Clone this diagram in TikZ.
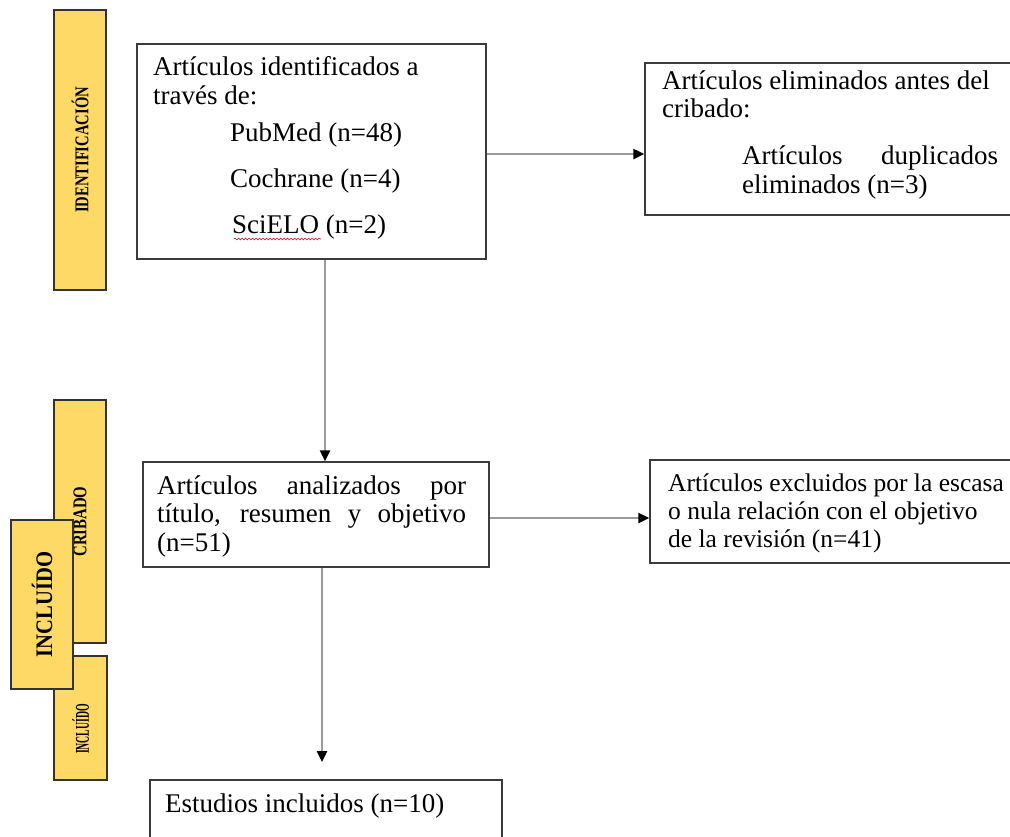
\documentclass[tikz,border=0pt]{standalone}
\usepackage{fontspec}
\setmainfont{Liberation Serif}
\usetikzlibrary{positioning,arrows.meta,calc,decorations.pathmorphing}
\definecolor{barfill}{HTML}{FFD966}
\definecolor{boxline}{HTML}{3B3B3B}
\definecolor{flowline}{HTML}{9A9A9A}

\begin{document}
\begin{tikzpicture}[x=1pt,y=-1pt,
  box/.style={draw=boxline,line width=1.5pt,inner sep=0pt},
  bar/.style={draw=black!80,fill=barfill,line width=1.2pt,inner sep=0pt,rotate=90,font=\bfseries\fontsize{19.5}{20}\selectfont},
  txt/.style={anchor=base west,inner sep=0pt,align=left,font=\fontsize{27}{28.5}\selectfont},
  flow/.style={draw=flowline,line width=2.4pt,-{Triangle[length=11pt,width=10pt,color=black]}}]
  \useasboundingbox (0,0) rectangle (1010,836);
  \node[bar,minimum width=280,minimum height=52] (identbar) at (80,150) {\scalebox{0.75}[1]{IDENTIFICACIÓN}};
  \node[bar,minimum width=243,minimum height=52] (cribbar) at (80,521.5) {\scalebox{0.76}[1]{CRIBADO}};
  \node[bar,minimum width=124,minimum height=53] (inclbar) at (80.5,718) {\scalebox{0.5}[1]{INCLUÍDO}\hspace*{22pt}};
  \node[bar,minimum width=169,minimum height=62,font=\bfseries\fontsize{23.7}{24}\selectfont] (inclbig) at (42,604.5) {\scalebox{0.87}[1]{INCLUÍDO}};
  \node[box,minimum width=349,minimum height=215] (ident) at (311.5,151.5) {};
  \node[box,minimum width=390,minimum height=152] (elim) at (840,139) {};
  \node[box,minimum width=346,minimum height=105] (anal) at (316,514.5) {};
  \node[box,minimum width=385,minimum height=103] (excl) at (842.5,511.5) {};
  \node[box,minimum width=352,minimum height=80] (estud) at (326,820) {};
  \node[txt] (identtxt) at (153,233) {Artículos identificados a\\través de:\\[8.5pt]\hspace*{77pt}PubMed (n=48)\\[17.5pt]\hspace*{77pt}Cochrane (n=4)\\[17.5pt]\hspace*{79pt}SciELO (n=2)};
  \draw[red!85!black,line width=0.6pt,decorate,decoration={snake,amplitude=0.9pt,segment length=3.5pt}] (234,239) -- (321,239);
  \node[txt] (elimtxt) at (662,193) {Artículos eliminados antes del\\cribado:\\[18.5pt]\hspace*{80pt}\makebox[256pt][s]{Artículos duplicados}\\\hspace*{80pt}eliminados (n=3)};
  \node[txt] (analtxt) at (157,551) {\makebox[309pt][s]{Artículos analizados por}\\\makebox[309pt][s]{título, resumen y objetivo}\\(n=51)};
  \node[txt,font=\fontsize{25.5}{28}\selectfont] (excltxt) at (668,547) {Artículos excluidos por la escasa\\o nula relación con el objetivo\\de la revisión (n=41)};
  \node[txt] (estudtxt) at (165,812) {Estudios incluidos (n=10)};
  \coordinate (estudin) at (322,762);
  \draw[flow] (ident.east |- 0,154) -- (elim.west |- 0,154);
  \draw[flow] (ident.south -| 325,0) -- (anal.north -| 325,0);
  \draw[flow] (anal.east |- 0,518) -- (excl.west |- 0,518);
  \draw[flow] (anal.south -| 322,0) -- (estudin);
\end{tikzpicture}
\end{document}
